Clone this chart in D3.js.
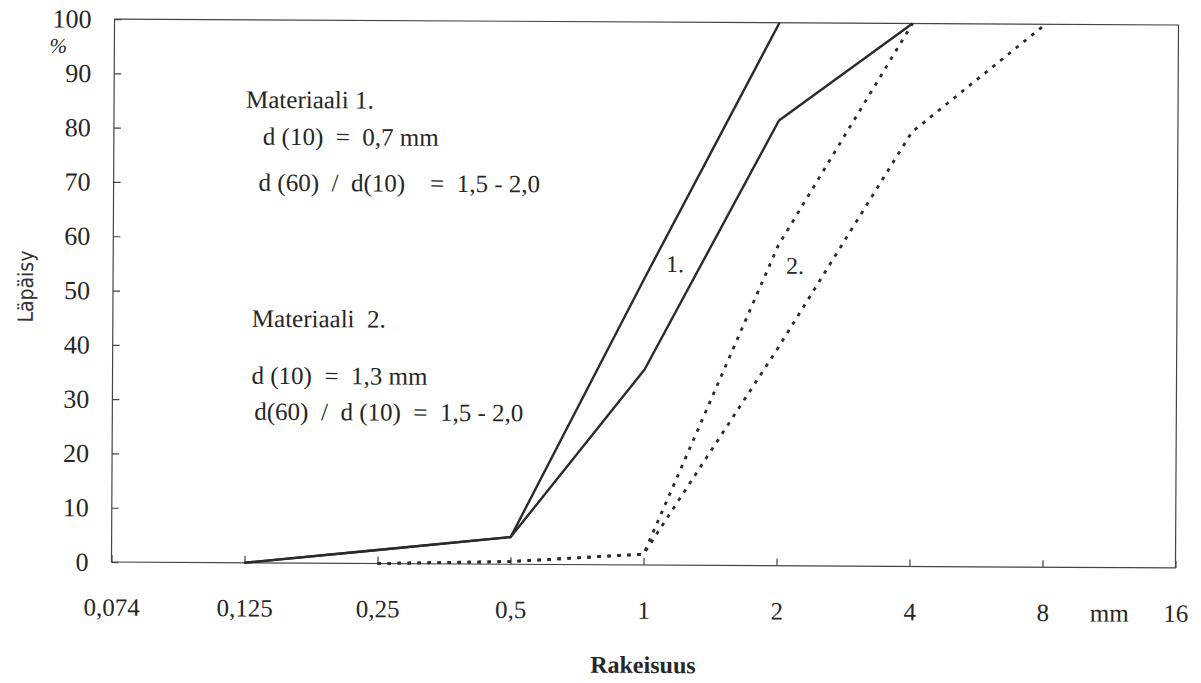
<!DOCTYPE html>
<html>
<head>
<meta charset="utf-8">
<script src="https://cdn.jsdelivr.net/npm/d3@7"></script>
<style>
  html, body { margin: 0; padding: 0; background: #fff; }
  svg { display: block; }
</style>
</head>
<body>
<script>
// Grain size classes (mm) along the x axis, equally spaced
const sizeLabels = ["0,074", "0,125", "0,25", "0,5", "1", "2", "4", "8", "16"];
const passTicks = [0, 10, 20, 30, 40, 50, 60, 70, 80, 90, 100];

// Materiaali 1, fine and coarse limit curves (passing %)
const mat1FineSizes = ["0,125", "0,25", "0,5", "1", "2"];
const mat1FinePass = [0, 2.5, 5, 53, 100];
const mat1CoarseSizes = ["0,125", "0,25", "0,5", "1", "2", "4"];
const mat1CoarsePass = [0, 2.5, 5, 36, 82, 100];

// Materiaali 2, fine and coarse limit curves (passing %)
const mat2FineSizes = ["0,25", "0,5", "1", "2", "4"];
const mat2FinePass = [0, 0.5, 2, 59, 100];
const mat2CoarseSizes = ["0,25", "0,5", "1", "2", "4", "8"];
const mat2CoarsePass = [0, 0.5, 2, 40, 80, 100];

const W = 1201, H = 683;
const m = { left: 113, right: 1177, top: 22, bottom: 565 };
const serif = "'Liberation Serif', 'DejaVu Serif', serif";
const ink = "#262626";

const svg = d3.select("body").append("svg")
  .attr("width", W).attr("height", H)
  .attr("viewBox", `0 0 ${W} ${H}`);

// the whole sheet sits very slightly rotated
const g = svg.append("g").attr("transform", "rotate(0.32 645 293)");

const x = d3.scalePoint().domain(sizeLabels).range([m.left, m.right]);
const y = d3.scaleLinear().domain([0, 100]).range([m.bottom, m.top]);

// frame
g.append("rect")
  .attr("x", m.left).attr("y", m.top)
  .attr("width", m.right - m.left).attr("height", m.bottom - m.top)
  .attr("fill", "none").attr("stroke", "#444").attr("stroke-width", 1.2);

// y axis
const yAxis = g.append("g")
  .attr("transform", `translate(${m.left},0)`)
  .call(d3.axisLeft(y).tickValues(passTicks).tickSize(-7).tickSizeOuter(0).tickPadding(23));
yAxis.select(".domain").remove();
yAxis.selectAll(".tick line").attr("stroke", "#444").attr("stroke-width", 1.2);
yAxis.selectAll(".tick text")
  .attr("font-family", serif).attr("font-size", 26).attr("fill", ink);

// x axis
const xAxis = g.append("g")
  .attr("transform", `translate(0,${m.bottom})`)
  .call(d3.axisBottom(x).tickSize(-7).tickSizeOuter(0).tickPadding(36));
xAxis.select(".domain").remove();
xAxis.selectAll(".tick line").attr("stroke", "#444").attr("stroke-width", 1.2);
xAxis.selectAll(".tick text")
  .attr("font-family", serif).attr("font-size", 25).attr("fill", ink);

// units
g.append("text").attr("x", 57).attr("y", 56)
  .attr("text-anchor", "middle")
  .attr("font-family", serif).attr("font-style", "italic")
  .attr("font-size", 21).attr("fill", ink).text("%");
g.append("text").attr("x", 1111).attr("y", 619)
  .attr("text-anchor", "middle")
  .attr("font-family", serif).attr("font-size", 25).attr("fill", ink).text("mm");

// axis titles
g.append("text").attr("x", 645).attr("y", 673)
  .attr("text-anchor", "middle")
  .attr("font-family", serif).attr("font-weight", "bold")
  .attr("font-size", 24).attr("fill", ink).text("Rakeisuus");
g.append("text")
  .attr("transform", "translate(33,290) rotate(-90)")
  .attr("text-anchor", "middle")
  .attr("font-family", "'DejaVu Sans Condensed', 'Liberation Sans Narrow', sans-serif")
  .attr("font-size", 21).attr("fill", "#333").text("Läpäisy");

// grading curves
const line = d3.line().x(d => x(d[0])).y(d => y(d[1]));
const curves = [
  { sizes: mat1FineSizes, pass: mat1FinePass, dash: null },
  { sizes: mat1CoarseSizes, pass: mat1CoarsePass, dash: null },
  { sizes: mat2FineSizes, pass: mat2FinePass, dash: "3.5,6.5" },
  { sizes: mat2CoarseSizes, pass: mat2CoarsePass, dash: "3.5,6.5" }
];
curves.forEach(c => {
  g.append("path")
    .datum(c.sizes.map((s, i) => [s, c.pass[i]]))
    .attr("d", line)
    .attr("fill", "none")
    .attr("stroke", "#2b2b2b")
    .attr("stroke-width", c.dash ? 2.8 : 2.4)
    .attr("stroke-dasharray", c.dash)
    .attr("stroke-linejoin", "round");
});

// curve numbers
g.append("text").attr("x", 666).attr("y", 272)
  .attr("font-family", serif).attr("font-size", 24).attr("fill", ink).text("1.");
g.append("text").attr("x", 786).attr("y", 273)
  .attr("font-family", serif).attr("font-size", 24).attr("fill", ink).text("2.");

// material descriptions
const notes = [
  { x: 245, y: 110, t: "Materiaali 1." },
  { x: 262, y: 147, t: "d (10)  =  0,7 mm" },
  { x: 258, y: 193, t: "d (60)  /  d(10)    =  1,5 - 2,0" },
  { x: 252, y: 329, t: "Materiaali  2." },
  { x: 252, y: 386, t: "d (10)  =  1,3 mm" },
  { x: 255, y: 422, t: "d(60)  /  d (10)  =  1,5 - 2,0" }
];
g.selectAll("text.note").data(notes).enter().append("text")
  .attr("class", "note")
  .attr("x", d => d.x).attr("y", d => d.y)
  .attr("font-family", serif).attr("font-size", 25).attr("fill", ink)
  .attr("xml:space", "preserve").style("white-space", "pre")
  .text(d => d.t);
</script>
</body>
</html>
